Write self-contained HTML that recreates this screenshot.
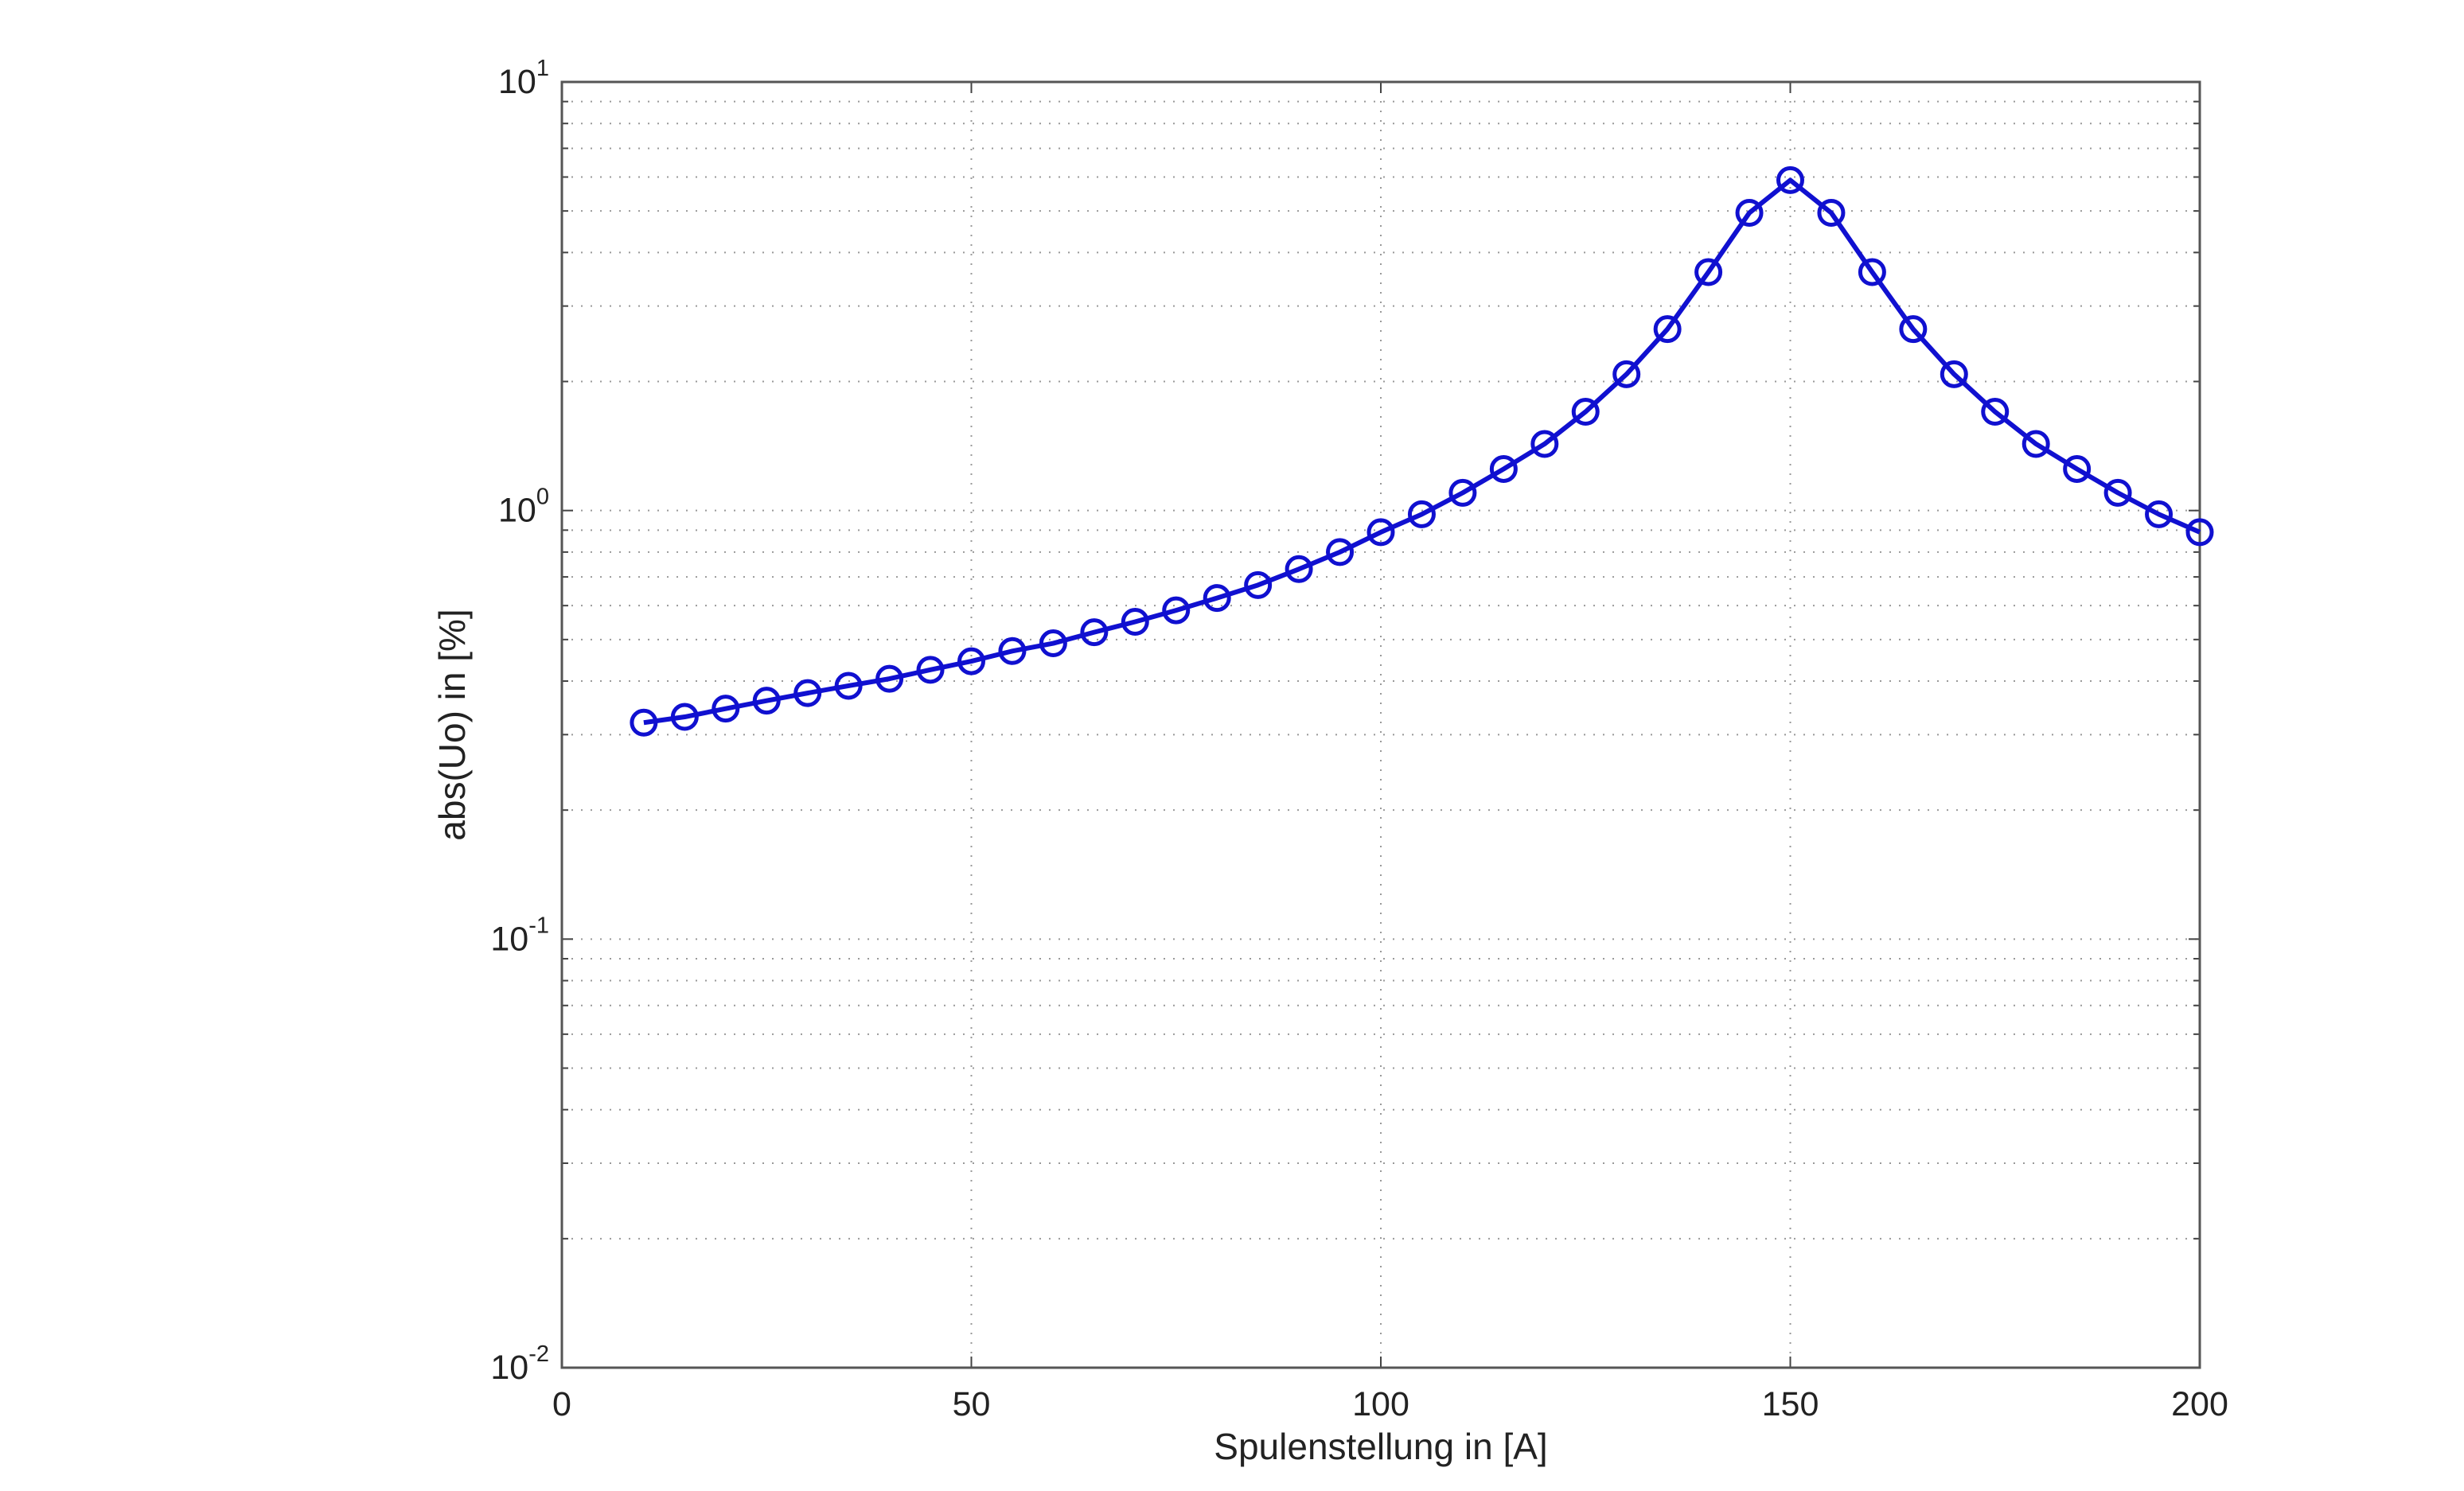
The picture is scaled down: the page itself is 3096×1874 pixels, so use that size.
<!DOCTYPE html>
<html><head><meta charset="utf-8"><style>
body{margin:0;background:#fff}
svg{display:block;font-family:"Liberation Sans",sans-serif}
</style></head><body>
<svg id="chart" width="3096" height="1874" viewBox="0 0 3096 1874" xmlns="http://www.w3.org/2000/svg">
<rect width="3096" height="1874" fill="#fff"/>
<g id="grid"></g>
<g id="axes"></g>
<g id="series"></g>
<text transform="translate(584,911) rotate(-90)" text-anchor="middle" font-size="46" fill="#222">abs(Uo) in [%]</text>
<text x="1735" y="1834" text-anchor="middle" font-size="46" fill="#222">Spulenstellung in [A]</text>
</svg>
<script>
const xValues=[10,15,20,25,30,35,40,45,50,55,60,65,70,75,80,85,90,95,100,105,110,115,120,125,130,135,140,145,150,155,160,165,170,175,180,185,190,195,200];
const yValues=[0.32,0.33,0.345,0.36,0.375,0.39,0.405,0.425,0.445,0.47,0.49,0.52,0.55,0.585,0.625,0.67,0.73,0.8,0.89,0.98,1.1,1.25,1.43,1.7,2.08,2.65,3.6,4.95,5.9,4.95,3.6,2.65,2.08,1.7,1.43,1.25,1.1,0.98,0.89];
const xTicks=[0,50,100,150,200];
const yDecades=[-2,-1,0,1];
const L=706,R=2764,T=103,B=1719;
const NS="http://www.w3.org/2000/svg";
const xs=v=>L+(v-0)/(200-0)*(R-L);
const ys=v=>B-(Math.log10(v)+2)/3*(B-T);
function mk(tag,attrs,parent){const e=document.createElementNS(NS,tag);for(const k in attrs)e.setAttribute(k,attrs[k]);parent.appendChild(e);return e;}
const grid=document.getElementById('grid'),axes=document.getElementById('axes'),series=document.getElementById('series');
xTicks.forEach(t=>{
  const x=xs(t);
  if(t>0&&t<200){const g=mk('line',{x1:x,x2:x,y1:T,y2:B,stroke:'#999','stroke-width':2,'stroke-dasharray':'2 10'},grid);
  
  }
  const tb=mk('line',{x1:x,x2:x,y1:B,y2:B-14,stroke:'#444','stroke-width':2},axes);
  
  
  const tt=mk('line',{x1:x,x2:x,y1:T,y2:T+14,stroke:'#444','stroke-width':2},axes);
  
  
  const lab=mk('text',{x:x,y:B+60,'text-anchor':'middle','font-size':43,fill:'#222'},axes);
  lab.textContent=t;
  
  
});
yDecades.forEach(d=>{
  for(let m=1;m<=9;m++){
    if(d===1&&m>1)break;
    const v=m*Math.pow(10,d);const y=ys(v);
    if(y>T+1&&y<B-1){const g=mk('line',{x1:L,x2:R,y1:y,y2:y,stroke:'#999','stroke-width':2,'stroke-dasharray':'2 10'},grid);
    
    }
    const len=m===1?14:8;
    const a=mk('line',{x1:L,x2:L+len,y1:y,y2:y,stroke:'#444','stroke-width':2},axes);
    
    
    const b=mk('line',{x1:R,x2:R-len,y1:y,y2:y,stroke:'#444','stroke-width':2},axes);
    
    
  }
  const y=ys(Math.pow(10,d));
  const lab=mk('text',{x:L-16,y:y+14,'text-anchor':'end','font-size':43,fill:'#222'},axes);
  
  
  lab.appendChild(document.createTextNode('10'));
  const sup=mk('tspan',{dy:-22,'font-size':29},lab);sup.textContent=String(d);
});
const frame=mk('rect',{x:L,y:T,width:R-L,height:B-T,fill:'none',stroke:'#555','stroke-width':3},axes);


const pts=xValues.map((x,i)=>xs(x)+','+ys(yValues[i])).join(' ');
const pl=mk('polyline',{points:pts,fill:'none',stroke:'#1010d0','stroke-width':6,'stroke-linejoin':'round'},series);


xValues.forEach((x,i)=>{
  const c=mk('circle',{cx:xs(x),cy:ys(yValues[i]),r:15,fill:'none',stroke:'#1010d0','stroke-width':5},series);
  
  
});
</script>
</body></html>
